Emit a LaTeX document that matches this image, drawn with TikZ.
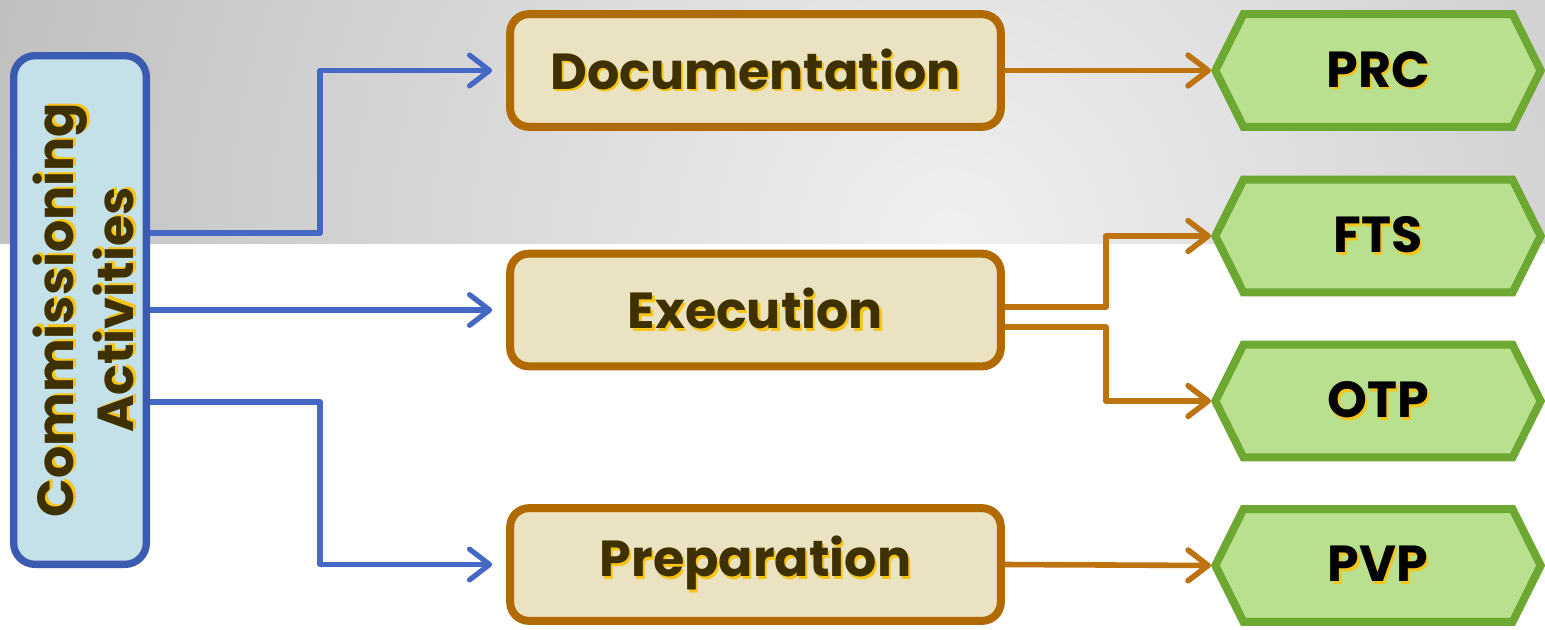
\documentclass[tikz,border=0pt]{standalone}
\usepackage{fontspec}
\setmainfont{Poppins}
\usetikzlibrary{arrows.meta,shapes.symbols,calc}
\definecolor{bgin}{HTML}{F0F0F0}
\definecolor{bgout}{HTML}{B0B0B0}
\definecolor{cablue}{HTML}{3A5BB0}
\definecolor{cafill}{HTML}{C4E0E8}
\definecolor{arrblue}{HTML}{4468C4}
\definecolor{oborder}{HTML}{B06A00}
\definecolor{ofill}{HTML}{EBE2C2}
\definecolor{oarr}{HTML}{BC7310}
\definecolor{gborder}{HTML}{6DA832}
\definecolor{gfill}{HTML}{B8E08E}
\definecolor{txtc}{HTML}{3F3000}
\definecolor{glowc}{HTML}{F5C518}
\newcommand{\gl}[1]{\rlap{\hspace{1.6pt}\raisebox{-2pt}{\textcolor{glowc}{#1}}}#1}
\begin{document}
\begin{tikzpicture}[x=0.75pt,y=-0.75pt,
  bigfont/.style={font={\fontsize{38}{45}\selectfont\bfseries}},
  cabox/.style={draw=cablue, fill=cafill, line width=5.5pt, rounded corners=16pt,
    minimum width=99.5pt, minimum height=381.5pt, inner sep=0pt},
  obox/.style={draw=oborder, fill=ofill, line width=6pt, rounded corners=14pt,
    minimum width=368pt, minimum height=84.5pt, inner sep=0pt, text=txtc, bigfont},
  hexbox/.style={signal, signal to=west and east, signal pointer angle=127,
    draw=gborder, fill=gfill, line width=6pt,
    minimum width=244pt, minimum height=84.5pt, inner sep=0pt, text=black, bigfont},
  barrow/.style={draw=arrblue, line width=3.9pt, line join=round,
    -{Straight Barb[length=15pt,width=23pt,round]}},
  oarrow/.style={draw=oarr, line width=4.2pt, line join=round,
    -{Straight Barb[length=15pt,width=23pt,round]}}]
\useasboundingbox (0,0) rectangle (1545,629);
\fill[white] (0,0) rectangle (1545,629);
\begin{scope}
  \clip (0,0) rectangle (1545,243);
  \shade[inner color=bgin, outer color=bgout] (950,240) circle (975pt);
\end{scope}

\node[cabox] (ca) at (80,310) {};
\node[rotate=90, bigfont, text=txtc, align=center, inner sep=0pt] (catext) at (85,310)
  {\gl{Commissioning}\\\gl{Activities}};

\node[obox] (doc) at (755.5,70.5) {\raisebox{-1.5pt}{\gl{Documentation}}};
\node[obox] (ex) at (755.5,310) {\raisebox{-1.5pt}{\gl{Execution}}};
\node[obox] (prep) at (755.5,564.5) {\raisebox{-1.5pt}{\gl{Preparation}}};

\node[hexbox] (prc) at (1378,70.5) {\raisebox{-1.5pt}{\gl{PRC}}};
\node[hexbox] (fts) at (1378,236) {\raisebox{-1.5pt}{\gl{FTS}}};
\node[hexbox] (otp) at (1378,401) {\raisebox{-1.5pt}{\gl{OTP}}};
\node[hexbox] (pvp) at (1378,565.5) {\raisebox{-1.5pt}{\gl{PVP}}};

\draw[barrow] ($(ca.east)+(0,-77)$) -- ++(170,0) |- ([xshift=-10.5pt]doc.west);
\draw[barrow] (ca.east) -- ([xshift=-10.5pt]ex.west);
\draw[barrow] ($(ca.east)+(0,92)$) -- ++(170,0) |- ([xshift=-10.5pt]prep.west);

\draw[oarrow] (doc.east) -- (prc.west);
\draw[oarrow] ($(ex.east)+(0,-3)$) -- ++(101,0) |- (fts.west);
\draw[oarrow] ($(ex.east)+(0,17)$) -- ++(101,0) |- (otp.west);
\draw[oarrow] (prep.east) -- (pvp.west);
\end{tikzpicture}
\end{document}
